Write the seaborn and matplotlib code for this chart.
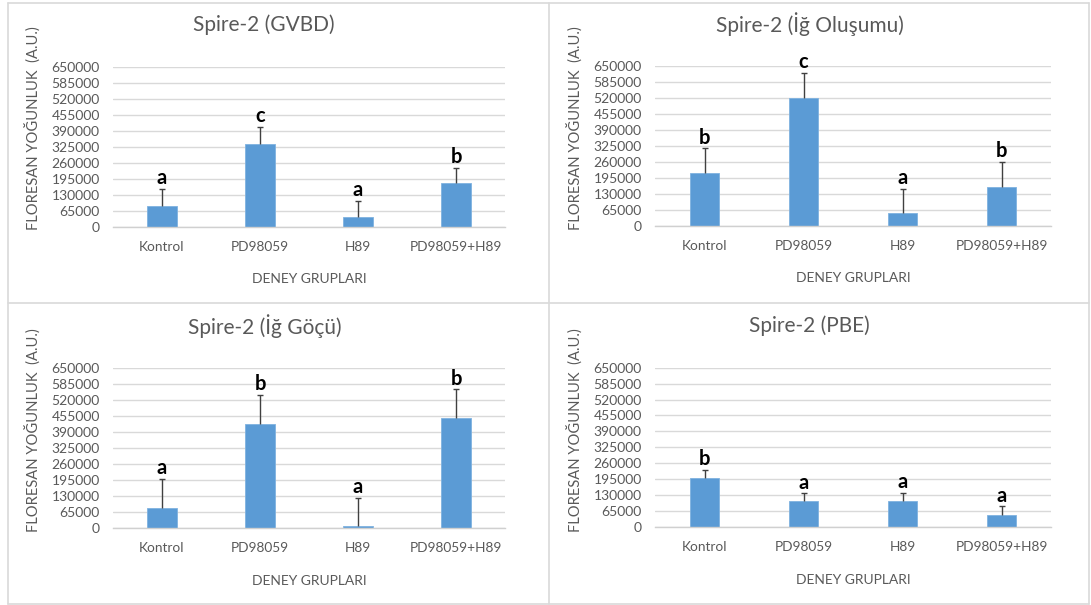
import matplotlib
matplotlib.use("Agg")
import matplotlib.pyplot as plt
from matplotlib.lines import Line2D
import numpy as np
import pandas as pd
import seaborn as sns

sns.set_theme(style="white")
plt.rcParams["font.family"] = ["Lato", "DejaVu Sans"]

# Experimental groups
groups = ["Kontrol", "PD98059", "H89", "PD98059+H89"]

# Mean fluorescence intensity (A.U.) and upper error per stage
gvbd_mean = [85000, 336000, 39000, 176000]
gvbd_err = [68000, 69000, 65000, 64000]
gvbd_sig = ["a", "c", "a", "b"]

ig_olusumu_mean = [215000, 521000, 52000, 156000]
ig_olusumu_err = [100000, 103000, 99000, 104000]
ig_olusumu_sig = ["b", "c", "a", "b"]

ig_gocu_mean = [81000, 424000, 7000, 447000]
ig_gocu_err = [118000, 116000, 116000, 116000]
ig_gocu_sig = ["a", "b", "a", "b"]

pbe_mean = [201000, 105000, 105000, 48000]
pbe_err = [32000, 32000, 35000, 36000]
pbe_sig = ["b", "a", "a", "a"]

titles = ["Spire-2 (GVBD)", "Spire-2 (İğ Oluşumu)", "Spire-2 (İğ Göçü)", "Spire-2 (PBE)"]
y_ticks = list(range(0, 650001, 65000))

BAR = "#5B9BD5"
GRID = "#D9D9D9"
TXT = "#595959"

W, H = 1091, 605
fig = plt.figure(figsize=(W / 100, H / 100), dpi=100)
fig.patch.set_facecolor("white")

# plot-area boxes in pixels: left, right, top, bottom
boxes = [(113, 505, 66.7, 226.7), (655, 1051, 66.3, 225.7),
         (113, 505, 368, 528), (655, 1051, 367.7, 527)]
title_pos = [(264, 33), (810, 32), (265, 334), (809, 334)]
ylabel_pos = [(33, 128), (575, 128), (33, 430.5), (575, 430.5)]

panels = [
    (gvbd_mean, gvbd_err, gvbd_sig),
    (ig_olusumu_mean, ig_olusumu_err, ig_olusumu_sig),
    (ig_gocu_mean, ig_gocu_err, ig_gocu_sig),
    (pbe_mean, pbe_err, pbe_sig),
]

for k, (means, errs, sig) in enumerate(panels):
    l, r, t, b = boxes[k]
    ax = fig.add_axes([l / W, 1 - b / H, (r - l) / W, (b - t) / H])
    df = pd.DataFrame({"grup": groups, "deger": means})
    sns.barplot(data=df, x="grup", y="deger", color=BAR, saturation=1,
                width=0.3, ax=ax, zorder=2)
    for p in ax.patches:
        p.set_edgecolor("#7FB2E0")
        p.set_linewidth(0.6)

    xs = np.arange(len(groups))
    eb = ax.errorbar(xs, means, yerr=[np.zeros(len(errs)), errs], fmt="none",
                     ecolor="#404040", elinewidth=1.0, capsize=2.5,
                     capthick=1.0, zorder=3)
    # keep only the upper cap
    for cap in eb[1]:
        if np.allclose(cap.get_ydata(), means):
            cap.set_visible(False)

    for i, (m, e, s) in enumerate(zip(means, errs, sig)):
        ax.annotate(s, (i, m + e), xytext=(0, 0.5), textcoords="offset points",
                    ha="center", va="bottom", fontsize=14.5, fontweight="bold",
                    color="black", annotation_clip=False)

    ax.set_ylim(0, 650000)
    ax.set_xlim(-0.5, 3.5)
    ax.set_yticks(y_ticks)
    ax.set_yticklabels([str(v) for v in y_ticks])
    ax.yaxis.grid(True, color=GRID, linewidth=1.0, zorder=0)
    ax.xaxis.grid(False)
    ax.set_axisbelow(True)
    for side in ["top", "right", "left"]:
        ax.spines[side].set_visible(False)
    ax.spines["bottom"].set_color("#D0D0D0")
    ax.spines["bottom"].set_linewidth(1.0)
    ax.tick_params(axis="y", length=0, pad=9.5, labelsize=10, labelcolor=TXT)
    ax.tick_params(axis="x", length=0, pad=10, labelsize=9.8, labelcolor=TXT)

    ax.set_xlabel("DENEY GRUPLARI", fontsize=10, color=TXT, labelpad=15)
    ax.set_ylabel("FLORESAN YOĞUNLUK  (A.U.)", fontsize=10.6, color=TXT)
    yx, yy = ylabel_pos[k]
    ax.yaxis.label.set_va("center")
    ax.yaxis.set_label_coords((yx - l) / (r - l), (b - yy) / (b - t))

    tx, ty = title_pos[k]
    ax.set_title(titles[k], fontsize=15, color=TXT,
                 x=(tx - l) / (r - l), y=(b - ty) / (b - t), va="center")

# chart frames
def hline(y, x0, x1):
    fig.add_artist(Line2D([x0 / W, x1 / W], [1 - y / H, 1 - y / H],
                          color=GRID, linewidth=1.2))

def vline(x, y0, y1):
    fig.add_artist(Line2D([x / W, x / W], [1 - y0 / H, 1 - y1 / H],
                          color=GRID, linewidth=1.2))

hline(3, 8, 1089)
hline(303, 8, 1089)
hline(604, 8, 1089)
vline(8, 3, 604)
vline(549, 3, 604)
vline(1089, 3, 604)

fig.savefig("out.png", dpi=100, facecolor="white")
